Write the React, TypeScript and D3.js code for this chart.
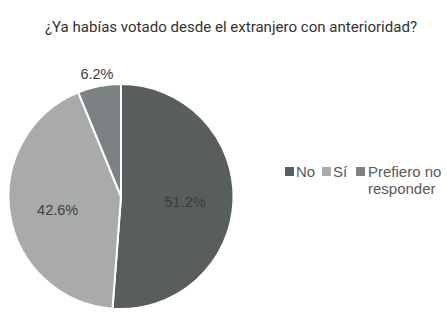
import React from "react";
import * as d3 from "d3";

const categories = ["No", "Sí", "Prefiero no responder"];
const values = [51.2, 42.6, 6.2];
const colors = ["#585d5d", "#a8aba9", "#7c8183"];
const title = "¿Ya habías votado desde el extranjero con anterioridad?";

export default function App() {
  const W = 447, H = 313;
  const cx = 121, cy = 196.5, r = 112.5;
  const pie = d3.pie<number>().sort(null).value((d) => d)(values);
  const arc = d3.arc<d3.PieArcDatum<number>>().innerRadius(0).outerRadius(r);
  const font = "'Liberation Sans', Arial, sans-serif";
  return (
    <svg width={W} height={H} style={{ position: "absolute", left: 0, top: 0, background: "#fff" }}>
      <text x={45} y={32} textLength={372} lengthAdjust="spacingAndGlyphs" fontFamily="Roboto, sans-serif" fontSize={15.5} fill="#333">
        {title}
      </text>
      <g transform={`translate(${cx},${cy})`}>
        {pie.map((p, i) => (
          <path key={i} d={arc(p) || ""} fill={colors[i]} stroke="#fff" strokeWidth={2} />
        ))}
        {pie.map((p, i) => {
          const mid = (p.startAngle + p.endAngle) / 2;
          const small = p.endAngle - p.startAngle < 0.5;
          const lr = small ? r + 12 : r * 0.57;
          const x = Math.sin(mid) * lr;
          const y = -Math.cos(mid) * lr + (small ? 0 : 3);
          return (
            <text key={i} x={x} y={y} dy="0.35em" textAnchor="middle" fontFamily={font} fontSize={14.5} fill={i === 0 ? "#3a3d3d" : "#404040"}>
              {values[i].toFixed(1)}%
            </text>
          );
        })}
      </g>
      <g fontFamily={font} fontSize={15} fill="#595959">
        <rect x={285} y={167} width={9} height={9} fill={colors[0]} />
        <text x={296} y={177}>{categories[0]}</text>
        <rect x={322} y={167} width={9} height={9} fill={colors[1]} />
        <text x={333} y={177}>{categories[1]}</text>
        <rect x={356} y={167} width={9} height={9} fill={colors[2]} />
        <text x={368} y={177}>Prefiero no</text>
        <text x={368} y={193.5}>responder</text>
      </g>
    </svg>
  );
}
